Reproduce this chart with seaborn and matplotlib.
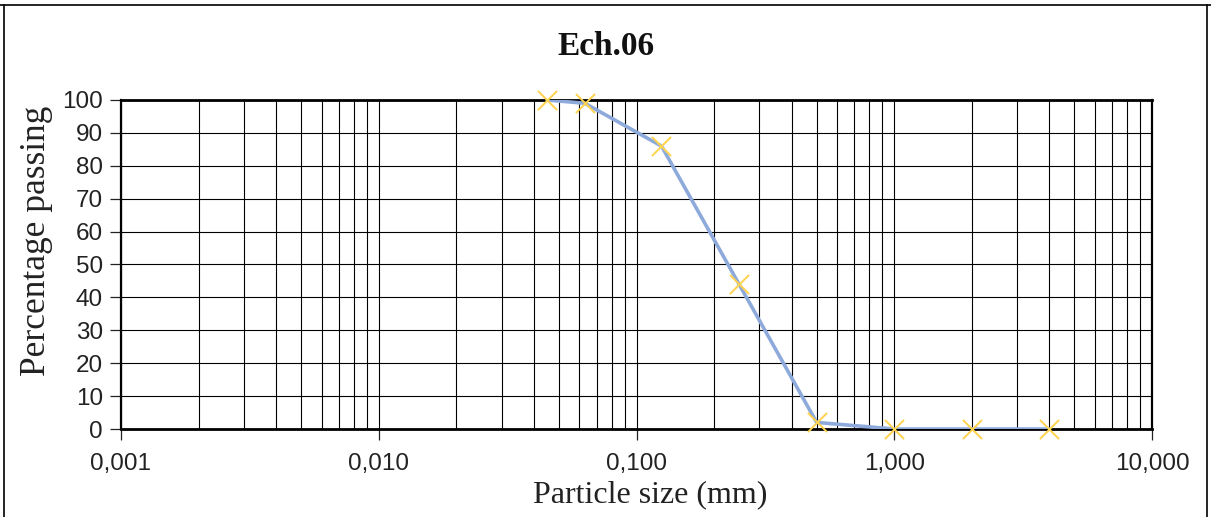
import matplotlib
matplotlib.use("Agg")
import matplotlib.pyplot as plt
import matplotlib.ticker as mticker
from matplotlib.lines import Line2D
import pandas as pd
import seaborn as sns

# grain size curve, sample Ech.06
sizes_mm = [0.045, 0.063, 0.125, 0.25, 0.5, 1.0, 2.0, 4.0]
passing = [100, 99, 86, 44, 2, 0, 0, 0]
x_ticks = [0.001, 0.01, 0.1, 1, 10]
x_labels = ["0,001", "0,010", "0,100", "1,000", "10,000"]
y_ticks = [0, 10, 20, 30, 40, 50, 60, 70, 80, 90, 100]

df = pd.DataFrame({"size": sizes_mm, "passing": passing})

sns.set_style("white")
plt.rcParams["font.family"] = ["Liberation Sans", "DejaVu Sans"]

fig = plt.figure(figsize=(12.11, 5.17), dpi=100)
ax = fig.add_axes([0.0999, 0.1702, 0.8514, 0.6364])

ax.set_xscale("log")
ax.set_xlim(0.001, 10)
ax.set_ylim(0, 100)

# grid: majors and minors on x, every 10 on y
minor_x = [m * 10.0 ** e for e in range(-3, 1) for m in range(2, 10)]
for v in minor_x + x_ticks:
    ax.axvline(v, color="black", lw=0.8, zorder=1)
for v in y_ticks:
    ax.axhline(v, color="black", lw=0.8, zorder=1)

sns.lineplot(data=df, x="size", y="passing", ax=ax, color="#8eaadb",
             lw=2.6, zorder=3, legend=False)
sns.scatterplot(data=df, x="size", y="passing", ax=ax, marker="x",
                color="#ffd34d", s=190, linewidth=1.4, zorder=4, legend=False)
for c in ax.collections:
    c.set_clip_on(False)

ax.xaxis.set_major_locator(mticker.FixedLocator(x_ticks))
ax.xaxis.set_major_formatter(mticker.FixedFormatter(x_labels))
ax.xaxis.set_minor_locator(mticker.NullLocator())
ax.set_yticks(y_ticks)
ax.tick_params(axis="both", which="major", labelsize=17.5, colors="#222222",
               length=8, width=0.9, direction="out", pad=5)
ax.tick_params(axis="x", pad=9)
ax.tick_params(left=True, bottom=True)

for s in ax.spines.values():
    s.set_visible(True)
    s.set_color("black")
    s.set_linewidth(1.6)
ax.spines["bottom"].set_linewidth(2.0)
ax.spines["top"].set_linewidth(2.0)

serif = ["Liberation Serif", "DejaVu Serif"]
ax.set_xlabel("Particle size (mm)", family=serif, fontsize=23, color="#222222",
              va="center")
ax.set_ylabel("Percentage passing", family=serif, fontsize=25.5, color="#222222",
              va="center")
ax.xaxis.set_label_coords(0.513, -0.2)
ax.yaxis.set_label_coords(-0.0815, 0.571)
fig.text(0.5, 0.91, "Ech.06", family=serif, fontsize=24, weight="bold",
         ha="center", va="center", color="#111111")

# surrounding table frame
fig.add_artist(Line2D([0, 1], [1 - 5 / 517] * 2, color="black", lw=1.2,
                      transform=fig.transFigure))
fig.add_artist(Line2D([4 / 1211] * 2, [0, 1 - 5 / 517], color="black", lw=1.2,
                      transform=fig.transFigure))
fig.add_artist(Line2D([1207 / 1211] * 2, [0, 1 - 5 / 517], color="black", lw=1.2,
                      transform=fig.transFigure))

fig.savefig("out.png", dpi=100)
